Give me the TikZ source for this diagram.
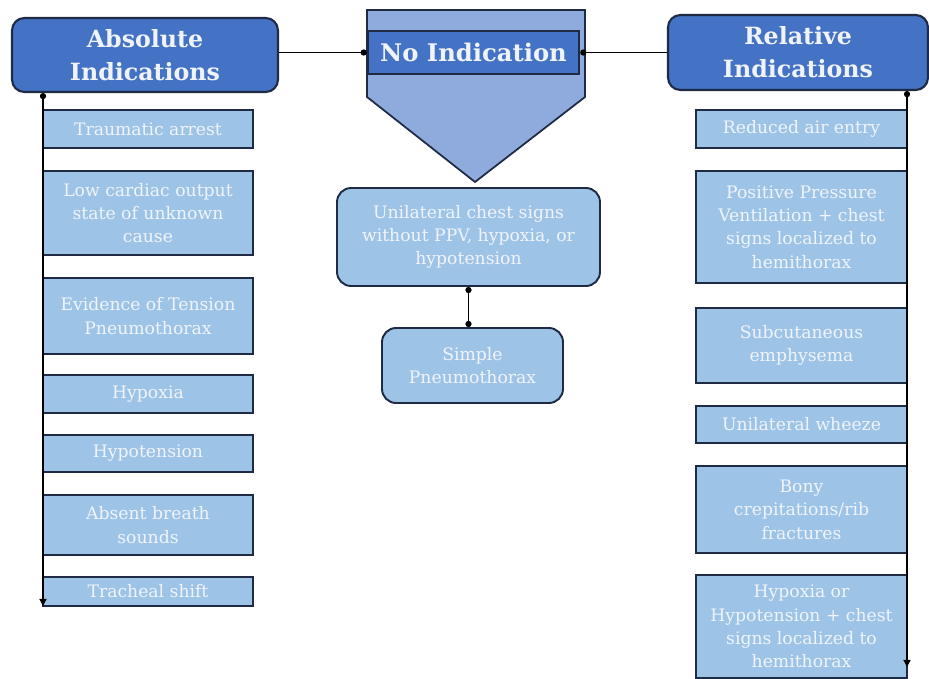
\documentclass[tikz,border=0pt]{standalone}
\usepackage{fontspec}
\setmainfont{DejaVu Serif}
\usetikzlibrary{arrows.meta}

\definecolor{headblue}{HTML}{4472C4}
\definecolor{pentblue}{HTML}{8FAADC}
\definecolor{itemblue}{HTML}{9DC3E6}
\definecolor{edgenavy}{HTML}{1F2A44}
\definecolor{paletext}{HTML}{F0F4FA}

\tikzset{
  head/.style={draw=edgenavy, line width=1.2pt, fill=headblue, rounded corners=7pt,
    text=paletext, font=\fontsize{13.5}{18.8}\selectfont\bfseries, align=center, inner sep=0pt},
  item/.style={draw=edgenavy, line width=1.1pt, fill=itemblue, text=paletext,
    font=\fontsize{9.8}{13.3}\selectfont, align=center, inner sep=0pt},
  leftitem/.style={item, minimum width=4.2cm},
  rightitem/.style={item, minimum width=4.22cm},
  link/.style={line width=0.7pt},
  dotlink/.style={link, -{Circle[length=3.5pt]}},
  downlink/.style={link, {Circle[length=3.5pt]}-{Triangle[length=4pt,width=4pt]}},
}

\begin{document}
\begin{tikzpicture}[x=0.02cm, y=-0.02cm]
    \useasboundingbox (0,0) rectangle (929,679);

    % centre arrow shape
    \draw[draw=edgenavy, line width=1pt, fill=pentblue]
        (367,10) -- (585,10) -- (585,97) -- (475,182) -- (367,97) -- cycle;

    % headers
    \node[head, minimum width=5.32cm, minimum height=1.48cm] (absol) at (145,55) {Absolute\\Indications};
    \node[head, minimum width=5.2cm, minimum height=1.5cm] (relat) at (798,52.5) {Relative\\Indications};
    \node[draw=edgenavy, line width=1.4pt, fill=headblue, text=paletext, font=\fontsize{13.8}{18}\selectfont\bfseries,
        inner sep=0pt, minimum width=4.22cm, minimum height=0.86cm] (noind) at (473.5,52.5) {No Indication};

    % absolute
    \node[leftitem, minimum height=0.76cm] (trauma) at (148,129) {Traumatic arrest};
    \node[leftitem, minimum height=1.68cm] (lowco) at (148,213) {Low cardiac output\\state of unknown\\cause};
    \node[leftitem, minimum height=1.52cm] (tension) at (148,316) {Evidence of Tension\\Pneumothorax};
    \node[leftitem, minimum height=0.76cm] (hypox) at (148,394) {Hypoxia};
    \node[leftitem, minimum height=0.74cm] (hypot) at (148,453.5) {Hypotension};
    \node[leftitem, minimum height=1.2cm] (absent) at (148,525) {Absent breath\\sounds};
    \node[leftitem, minimum height=0.58cm] (trach) at (148,591.5) {Tracheal shift};

    % relative
    \node[rightitem, minimum height=0.76cm] (reduced) at (801.5,129) {Reduced air entry};
    \node[rightitem, minimum height=2.24cm] (ppv) at (801.5,227) {Positive Pressure\\Ventilation + chest\\signs localized to\\hemithorax};
    \node[rightitem, minimum height=1.5cm] (subcut) at (801.5,345.5) {Subcutaneous\\emphysema};
    \node[rightitem, minimum height=0.74cm] (wheeze) at (801.5,424.5) {Unilateral wheeze};
    \node[rightitem, minimum height=1.74cm] (bony) at (801.5,509.5) {Bony\\crepitations/rib\\fractures};
    \node[rightitem, minimum height=2.06cm] (hypoor) at (801.5,626.5) {Hypoxia or\\Hypotension + chest\\signs localized to\\hemithorax};

    % none
    \node[item, rounded corners=8pt, minimum width=5.26cm, minimum height=1.96cm] (unilat) at (468.5,237)
        {Unilateral chest signs\\without PPV, hypoxia, or\\hypotension};
    \node[item, rounded corners=8pt, minimum width=3.62cm, minimum height=1.5cm] (simple) at (472.5,365.5)
        {Simple\\Pneumothorax};

    \coordinate (absend) at (43,606);
    \coordinate (relend) at (907,667);

    \draw[dotlink] (absol.east |- noind.west) -- (noind.west);
    \draw[dotlink] (relat.west) -- (noind.east);
    \draw[downlink] (absol.south -| absend) -- (absend);
    \draw[downlink] (relat.south -| relend) -- (relend);
    \draw[link, {Circle[length=3.5pt]}-{Circle[length=3.5pt]}] (unilat.south) -- (unilat.south |- simple.north);

\end{tikzpicture}
\end{document}
